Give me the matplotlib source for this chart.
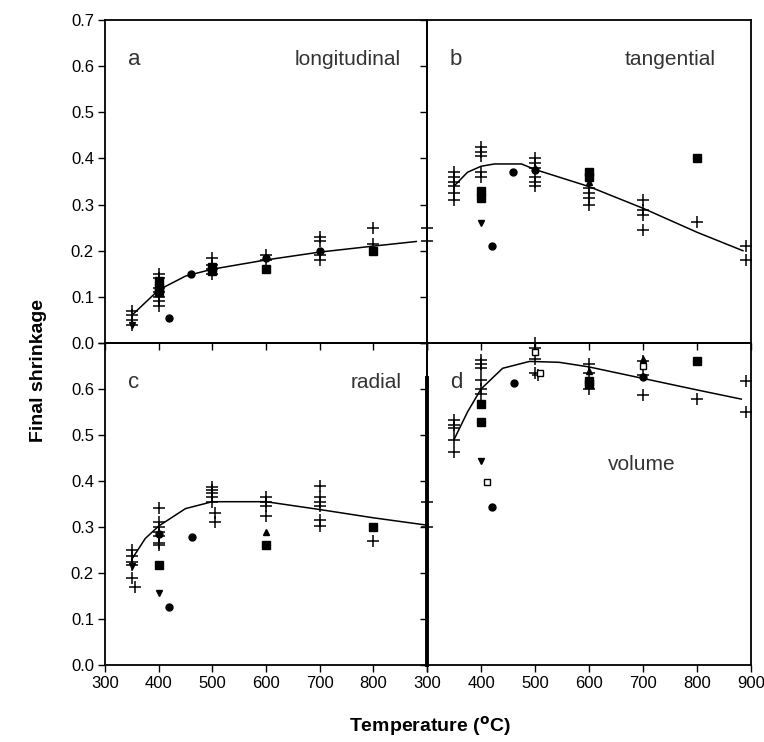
import matplotlib
matplotlib.use("Agg")
import matplotlib.pyplot as plt

plt.rcParams['font.family'] = ['Liberation Sans', 'DejaVu Sans']

# panel a: longitudinal
a_plus_x = [350, 350, 350, 350, 400, 400, 400, 400, 400, 400, 400, 500, 500, 500, 500,
            600, 600, 700, 700, 700, 700, 800, 800, 900, 900]
a_plus_y = [0.04, 0.05, 0.06, 0.07, 0.15, 0.14, 0.12, 0.11, 0.10, 0.09, 0.08, 0.185, 0.17, 0.16, 0.15,
            0.19, 0.18, 0.23, 0.22, 0.19, 0.18, 0.25, 0.215, 0.25, 0.22]
a_sq_x = [400, 400, 400, 500, 500, 600, 800]
a_sq_y = [0.135, 0.12, 0.11, 0.165, 0.155, 0.16, 0.20]
a_dot_x = [420, 460, 700, 600]
a_dot_y = [0.055, 0.15, 0.20, 0.185]
a_tdn_x = [350]
a_tdn_y = [0.04]
a_fit_x = [350, 400, 450, 500, 600, 700, 800, 880]
a_fit_y = [0.06, 0.115, 0.145, 0.16, 0.18, 0.197, 0.21, 0.22]

# panel b: tangential
b_plus_x = [350, 350, 350, 350, 350, 350, 400, 400, 400, 400, 400, 500, 500, 500, 500, 500, 500,
            600, 600, 600, 600, 700, 700, 700, 700, 800, 890, 890]
b_plus_y = [0.37, 0.36, 0.35, 0.34, 0.325, 0.31, 0.425, 0.415, 0.405, 0.37, 0.36,
            0.40, 0.39, 0.38, 0.36, 0.35, 0.34, 0.335, 0.325, 0.315, 0.30,
            0.31, 0.288, 0.278, 0.245, 0.263, 0.21, 0.18]
b_sq_x = [400, 400, 600, 600, 800]
b_sq_y = [0.33, 0.315, 0.37, 0.36, 0.40]
b_tup_x = [600, 500]
b_tup_y = [0.35, 0.38]
b_tdn_x = [400]
b_tdn_y = [0.26]
b_dot_x = [420, 460, 500]
b_dot_y = [0.21, 0.37, 0.375]
b_fit_x = [350, 375, 400, 425, 475, 500, 600, 700, 800, 885]
b_fit_y = [0.34, 0.37, 0.383, 0.388, 0.388, 0.376, 0.339, 0.292, 0.24, 0.20]

# panel c: radial
c_plus_x = [350, 350, 350, 350, 350, 355, 400, 400, 400, 400, 400, 400, 400,
            500, 500, 500, 500, 500, 505, 505, 600, 600, 600, 600,
            700, 700, 700, 700, 700, 700, 800, 900, 900]
c_plus_y = [0.25, 0.236, 0.225, 0.218, 0.19, 0.17, 0.341, 0.31, 0.30, 0.29, 0.28, 0.265, 0.26,
            0.387, 0.38, 0.375, 0.365, 0.355, 0.33, 0.31, 0.365, 0.355, 0.345, 0.324,
            0.39, 0.365, 0.355, 0.345, 0.316, 0.302, 0.27, 0.355, 0.30]
c_sq_x = [400, 600, 800]
c_sq_y = [0.218, 0.26, 0.30]
c_tup_x = [600]
c_tup_y = [0.29]
c_tdn_x = [400, 350]
c_tdn_y = [0.156, 0.215]
c_dot_x = [420, 462, 400]
c_dot_y = [0.126, 0.278, 0.285]
c_fit_x = [350, 375, 400, 450, 500, 600, 700, 800, 900]
c_fit_y = [0.23, 0.275, 0.302, 0.34, 0.355, 0.355, 0.338, 0.32, 0.304]

# panel d: volume
d_plus_x = [350, 350, 350, 350, 350, 400, 400, 400, 400, 400, 400,
            500, 500, 500, 500, 505, 600, 600, 600, 700, 700, 700, 800, 890, 890]
d_plus_y = [0.533, 0.522, 0.515, 0.49, 0.462, 0.663, 0.655, 0.645, 0.62, 0.60, 0.59,
            0.70, 0.69, 0.665, 0.635, 0.63, 0.655, 0.635, 0.60, 0.66, 0.63, 0.587, 0.578, 0.617, 0.551]
d_sq_x = [400, 400, 600, 600, 800]
d_sq_y = [0.568, 0.529, 0.617, 0.610, 0.661]
d_osq_x = [411, 500, 700, 510]
d_osq_y = [0.398, 0.68, 0.65, 0.635]
d_tup_x = [600, 700]
d_tup_y = [0.64, 0.665]
d_tdn_x = [400]
d_tdn_y = [0.443]
d_dot_x = [420, 461, 700]
d_dot_y = [0.344, 0.614, 0.626]
d_fit_x = [350, 375, 400, 440, 490, 545, 600, 700, 800, 882]
d_fit_y = [0.49, 0.55, 0.60, 0.645, 0.66, 0.658, 0.648, 0.623, 0.598, 0.578]

x_ticks = [300, 400, 500, 600, 700, 800, 900]
y_ticks = [0.0, 0.1, 0.2, 0.3, 0.4, 0.5, 0.6, 0.7]

fig = plt.figure(figsize=(7.64, 7.42), dpi=100)

L, M, R = 105 / 764, 427 / 764, 751 / 764
T, H, B = 1 - 20 / 742, 1 - 343 / 742, 1 - 665 / 742

ax_a = fig.add_axes([L, H, M - L, T - H])
ax_b = fig.add_axes([M, H, R - M, T - H])
ax_c = fig.add_axes([L, B, M - L, H - B])
ax_d = fig.add_axes([M, B, R - M, H - B])

panels = [
    (ax_a, 'a', a_plus_x, a_plus_y, a_sq_x, a_sq_y, [], [], [], [], a_tdn_x, a_tdn_y, a_dot_x, a_dot_y, a_fit_x, a_fit_y),
    (ax_b, 'b', b_plus_x, b_plus_y, b_sq_x, b_sq_y, [], [], b_tup_x, b_tup_y, b_tdn_x, b_tdn_y, b_dot_x, b_dot_y, b_fit_x, b_fit_y),
    (ax_c, 'c', c_plus_x, c_plus_y, c_sq_x, c_sq_y, [], [], c_tup_x, c_tup_y, c_tdn_x, c_tdn_y, c_dot_x, c_dot_y, c_fit_x, c_fit_y),
    (ax_d, 'd', d_plus_x, d_plus_y, d_sq_x, d_sq_y, d_osq_x, d_osq_y, d_tup_x, d_tup_y, d_tdn_x, d_tdn_y, d_dot_x, d_dot_y, d_fit_x, d_fit_y),
]

for (ax, letter, px, py, sx, sy, ox, oy, ux, uy, dx, dy, cx, cy, fx, fy) in panels:
    ax.plot(fx, fy, color='black', lw=1.1, zorder=2)
    ax.plot(px, py, '+', color='black', ms=9, mew=1.1, clip_on=False, zorder=3)
    ax.plot(sx, sy, 's', color='black', ms=6, clip_on=False, zorder=3)
    ax.plot(ox, oy, 's', mfc='white', mec='black', ms=5, mew=1, clip_on=False, zorder=3)
    ax.plot(ux, uy, '^', color='black', ms=5, clip_on=False, zorder=3)
    ax.plot(dx, dy, 'v', color='black', ms=5, clip_on=False, zorder=3)
    ax.plot(cx, cy, 'o', color='black', ms=5, clip_on=False, zorder=3)
    ax.set_xlim(300, 900)
    ax.set_ylim(0, 0.7)
    ax.set_xticks(x_ticks)
    ax.set_yticks(y_ticks)
    ax.tick_params(direction='out', length=5, width=1, labelsize=12, colors='black', pad=3)
    for sp in ax.spines.values():
        sp.set_linewidth(1.3)
    ax.set_facecolor('none')
    ax.text(0.07, 0.86, letter, transform=ax.transAxes, fontsize=16, color='#333333')

ax_a.set_xticklabels([])
ax_b.set_xticklabels([])
ax_b.set_yticklabels([])
ax_d.set_yticklabels([])
ax_a.set_yticklabels([f'{v:.1f}' for v in y_ticks])
ax_c.set_yticklabels([f'{v:.1f}' for v in y_ticks[:-1]] + [''])
ax_c.set_xticklabels([str(v) for v in x_ticks[:-1]] + [''])
ax_d.set_xticklabels([str(v) for v in x_ticks])

lab = dict(fontsize=15, color='#333333')
ax_a.text(0.92, 0.86, 'longitudinal', transform=ax_a.transAxes, ha='right', **lab)
ax_b.text(0.89, 0.86, 'tangential', transform=ax_b.transAxes, ha='right', **lab)
ax_c.text(0.92, 0.86, 'radial', transform=ax_c.transAxes, ha='right', **lab)
ax_d.text(697, 0.435, 'volume', ha='center', va='center', **lab)

# heavy segment along the shared vertical border of the lower panels
ax_c.axvline(900, 0, 0.89, color='black', lw=2.8, clip_on=False, zorder=4)

fig.text(0.05, 0.5, 'Final shrinkage', rotation=90, ha='center', va='center',
         fontsize=14, fontweight='bold')
fig.text(0.563, 0.006, r'Temperature ($\mathbf{^o}$C)', ha='center', va='bottom',
         fontsize=14, fontweight='bold')

fig.savefig('out.png', dpi=100)
